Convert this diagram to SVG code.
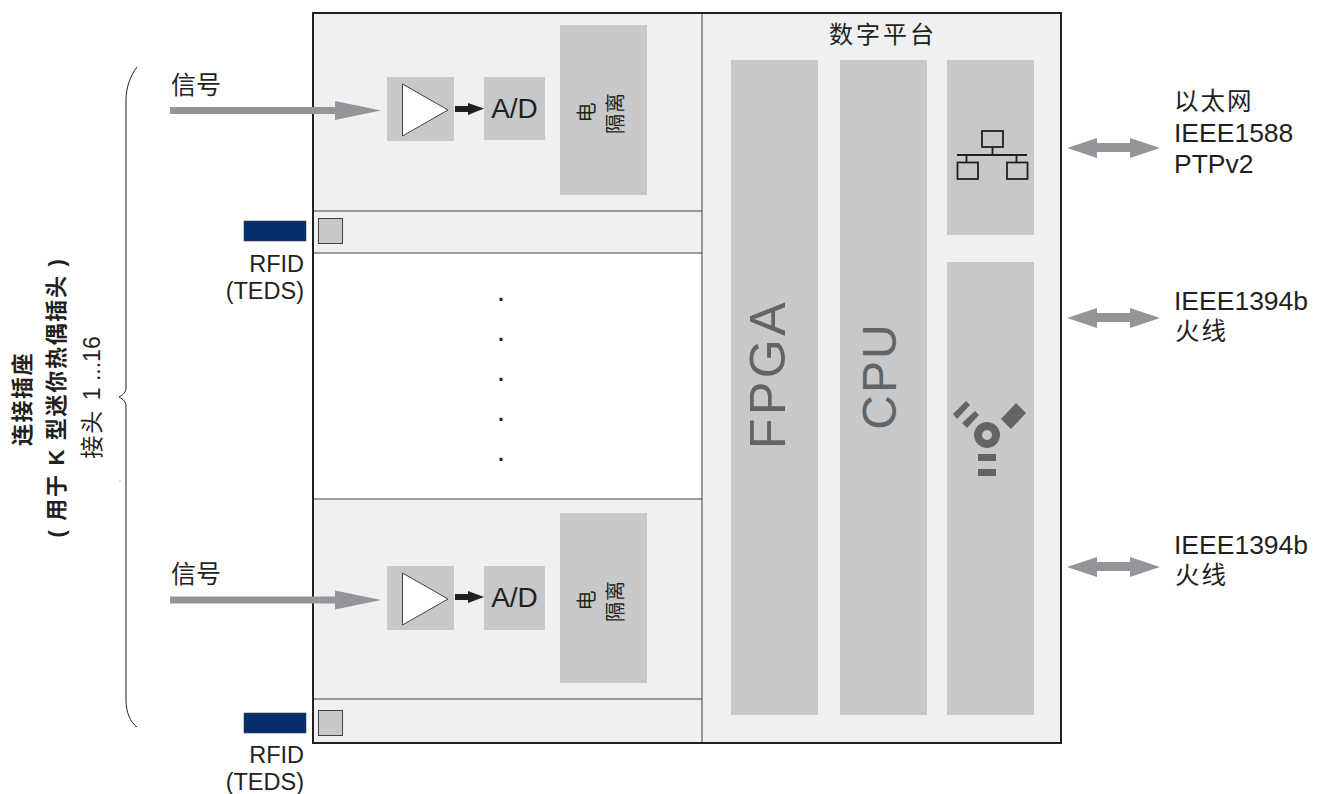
<svg xmlns="http://www.w3.org/2000/svg" width="1322" height="794" viewBox="0 0 1322 794">
<style>
.t{font-family:"Liberation Sans","Noto Sans CJK SC",sans-serif;fill:#231f20}
.c{font-family:"Noto Sans CJK SC","Liberation Sans",sans-serif;fill:#231f20}
.big{font-family:"Liberation Sans",sans-serif;fill:#636466;font-size:50px;text-anchor:middle}
.ad{font-size:28px;text-anchor:middle}
.iso{font-size:20px;text-anchor:middle;letter-spacing:1px}
.rt{font-size:26.5px}
.rc{font-size:24.500px;letter-spacing:2px}
.rl{font-size:23.500px;text-anchor:end}
.sg{font-size:25px}
.d{font-size:30px;text-anchor:middle}
.b{fill:#c7c8ca}
.g{fill:#939598}
.i{fill:#636466}
.sq{fill:#c7c8ca;stroke:#414042;stroke-width:1}
.rf{fill:#052e6f;stroke:#414042;stroke-width:.6}
.n{fill:none;stroke:#231f20;stroke-width:1.8}
.ln{stroke:#414042;stroke-width:1;fill:none}
.m{text-anchor:middle}
</style>
<rect width="1322" height="794" fill="#fff"/>
<g id="frame">
<rect x="313" y="13" width="748" height="730" fill="#eff0f2"/>
<rect x="313" y="253" width="389" height="246" fill="#fff"/>
<path class="ln" d="M313 211H702M313 253H702M313 499H702M313 699H702M702 13V743"/>
<rect x="313" y="13" width="748" height="730" fill="none" stroke="#231f20" stroke-width="2"/>
</g>
<g id="channel-1">
<rect class="b" x="387" y="77" width="67" height="64"/>
<polygon points="402.500,84 402.500,136 448,110" fill="#fff" stroke="#414042"/>
<rect class="b" x="484" y="77" width="61" height="63"/>
<text class="t ad" x="514.500" y="118">A/D</text>
<rect class="b" x="560" y="25" width="87" height="170"/>
<text class="c iso" transform="translate(594,112) rotate(-90)">电</text>
<text class="c iso" transform="translate(623,113) rotate(-90)">隔离</text>
<rect class="sq" x="318.500" y="218.500" width="24" height="25"/>
<rect class="rf" x="244" y="221" width="62" height="20"/>
<text class="t rl" x="304" y="272">RFID</text>
<text class="t rl" x="304" y="299">(TEDS)</text>
<text class="c sg" x="171" y="94">信号</text>
</g>
<g id="channel-2">
<rect class="b" x="387" y="566" width="67" height="64"/>
<polygon points="402.500,573 402.500,625 448,599" fill="#fff" stroke="#414042"/>
<rect class="b" x="484" y="566" width="61" height="64"/>
<text class="t ad" x="514.500" y="607">A/D</text>
<rect class="b" x="560" y="513" width="87" height="170"/>
<text class="c iso" transform="translate(594,600) rotate(-90)">电</text>
<text class="c iso" transform="translate(623,601) rotate(-90)">隔离</text>
<rect class="sq" x="318.500" y="710.500" width="24" height="25"/>
<rect class="rf" x="244" y="713" width="62" height="20"/>
<text class="t rl" x="304" y="763">RFID</text>
<text class="t rl" x="304" y="790">(TEDS)</text>
<text class="c sg" x="171" y="583">信号</text>
</g>
<g id="dots">
<text class="t d" x="501" y="300.500">.</text>
<text class="t d" x="501" y="340.500">.</text>
<text class="t d" x="501" y="380.500">.</text>
<text class="t d" x="501" y="420.500">.</text>
<text class="t d" x="501" y="460.500">.</text>
</g>
<g id="digital-platform">
<text class="c m" x="883" y="42.500" font-size="24" letter-spacing="3">数字平台</text>
<rect class="b" x="731" y="60" width="87" height="655"/>
<text class="big" transform="translate(785,374) rotate(-90)" letter-spacing="3.500">FPGA</text>
<rect class="b" x="840" y="60" width="87" height="655"/>
<text class="big" transform="translate(896,376) rotate(-90)" style="font-size:48px" letter-spacing="2">CPU</text>
</g>
<g id="ethernet">
<rect class="b" x="947" y="60" width="87" height="175"/>
<rect class="n" x="982" y="131" width="21" height="16"/>
<rect class="n" x="957.500" y="162.500" width="20.500" height="16.500"/>
<rect class="n" x="1007" y="162.500" width="20.500" height="16.500"/>
<path class="n" d="M957 155H1027M992.500 147V155M966.500 155V162M1016.500 155V162"/>
<text class="c rc" x="1174" y="110">以太网</text>
<text class="t rt" x="1174" y="142">IEEE1588</text>
<text class="t rt" x="1174" y="173">PTPv2</text>
</g>
<g id="firewire">
<rect class="b" x="947" y="262" width="87" height="453"/>
<g class="i">
<path fill-rule="evenodd" d="M987 422a13 13 0 1 0 .01 0ZM987 430a5 5 0 1 1-.01 0Z"/>
<rect x="978" y="454" width="18" height="7"/>
<rect x="978" y="469" width="18" height="7"/>
<polygon points="1016,403 1026,413 1011,429 1001,419"/>
<polygon points="966,401 970,405 957,419 953,414"/>
<polygon points="975,411 979,415 967,428 962,423"/>
</g>
<text class="t rt" x="1174" y="310">IEEE1394b</text>
<text class="c rc" x="1175" y="340">火线</text>
<text class="t rt" x="1174" y="554">IEEE1394b</text>
<text class="c rc" x="1175" y="584">火线</text>
</g>
<g id="connector-label">
<path d="M137 67C130 76 126 88 126 100V388C126 392 123 395 119 397C123 399 126 402 126 406V700C126 712 130 722 137 727" fill="none" stroke="#231f20" stroke-width="1"/>
<circle cx="120" cy="481" r=".5" fill="#636466"/>
<text class="t m" transform="translate(30,399) rotate(-90)" font-size="22" font-weight="700" letter-spacing="1.500">连接插座</text>
<text class="t m" transform="translate(64,397.500) rotate(-90)" font-size="22" font-weight="700" letter-spacing="1.700">( 用于 K 型迷你热偶插头 )</text>
<text class="t m" transform="translate(100,397.500) rotate(-90)" font-size="23"><tspan letter-spacing="2">接头 </tspan>1 ...16</text>
</g>
<g id="connectors">
<polygon class="g" points="170,107 335,107 335,101 381,110.500 335,120 335,114 170,114"/>
<polygon class="g" points="170,596.500 335,596.500 335,590.500 381,600 335,609.500 335,603.500 170,603.500"/>
<polygon fill="#231f20" points="455,106 468,106 468,103 484,108.500 468,115 468,112 455,112"/>
<polygon fill="#231f20" points="455,594 468,594 468,591 484,597 468,603 468,600 455,600"/>
<polygon class="g" points="1067,148 1097,138 1097,143 1130,143 1130,138 1160,148 1130,158 1130,152 1097,152 1097,158"/>
<polygon class="g" points="1067,318 1097,308 1097,313 1130,313 1130,308 1160,318 1130,328 1130,322 1097,322 1097,328"/>
<polygon class="g" points="1067,567 1097,557 1097,562 1130,562 1130,557 1160,567 1130,577 1130,571 1097,571 1097,577"/>
</g>
</svg>
